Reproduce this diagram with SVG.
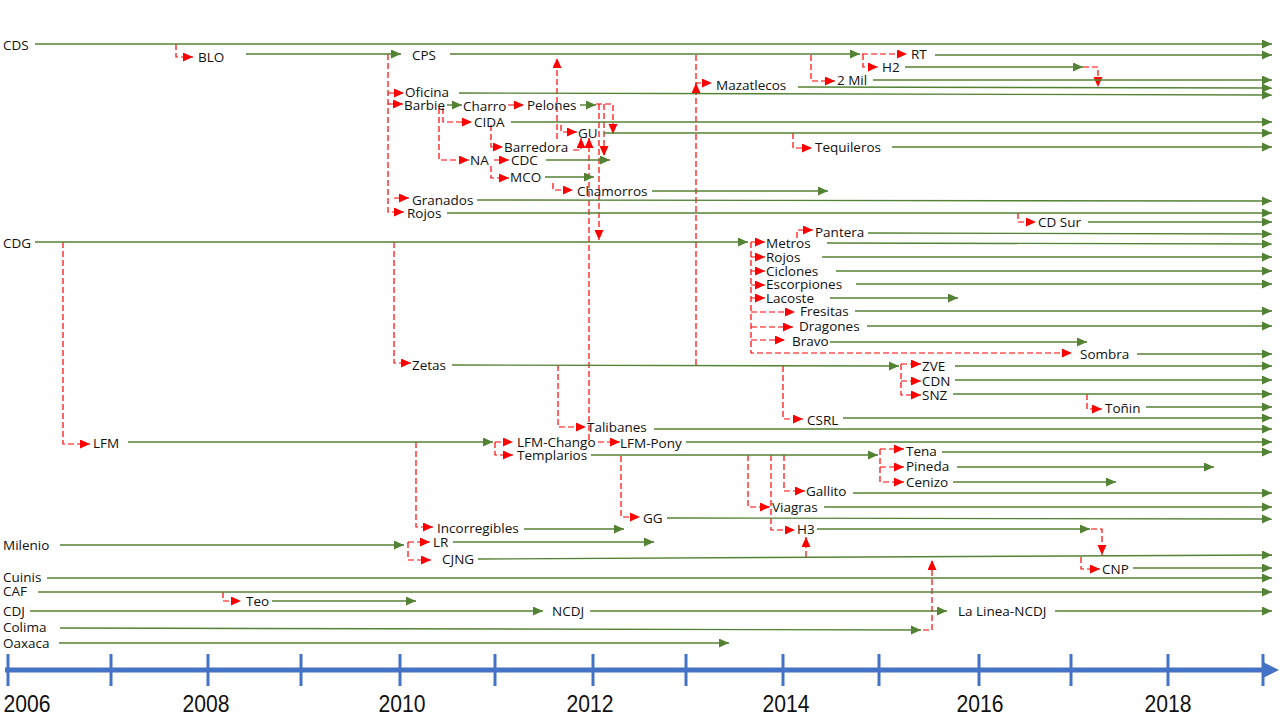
<svg xmlns="http://www.w3.org/2000/svg" width="1280" height="720" viewBox="0 0 1280 720">
<defs>
<style>
.t{font-family:"Open Sans","Noto Sans",sans-serif;font-size:13.5px;fill:#111}
.y{font-family:"Liberation Sans",Arial,sans-serif;font-size:24px;fill:#111;text-anchor:middle}
.g{stroke:#548235;stroke-width:1.4;fill:none}
.ga{marker-end:url(#ag)}
.r{stroke:#FF0000;stroke-width:1.2;fill:none;stroke-dasharray:6 3}
.ra{marker-end:url(#ar)}
.tk{stroke:#4472C4;stroke-width:3}
</style>
<marker id="ag" markerUnits="userSpaceOnUse" markerWidth="11" markerHeight="10" refX="10" refY="4.5" orient="auto"><path d="M0,0 L10,4.5 L0,9 Z" fill="#548235"/></marker>
<marker id="ar" markerUnits="userSpaceOnUse" markerWidth="11" markerHeight="10" refX="10" refY="4.5" orient="auto"><path d="M0,0 L10,4.5 L0,9 Z" fill="#FF0000"/></marker>
</defs>
<rect width="1280" height="720" fill="#fff"/>

<g id="axis">
<line x1="5" y1="670" x2="1266" y2="670" stroke="#4472C4" stroke-width="5"/>
<polygon points="1263,662 1279,670 1263,678" fill="#4472C4"/>
<g class="tk">
<line x1="8" y1="654" x2="8" y2="686"/><line x1="111" y1="654" x2="111" y2="686"/><line x1="208" y1="654" x2="208" y2="686"/><line x1="301" y1="654" x2="301" y2="686"/><line x1="400" y1="654" x2="400" y2="686"/><line x1="495" y1="654" x2="495" y2="686"/><line x1="593" y1="654" x2="593" y2="686"/><line x1="686" y1="654" x2="686" y2="686"/><line x1="783" y1="654" x2="783" y2="686"/><line x1="879" y1="654" x2="879" y2="686"/><line x1="979" y1="654" x2="979" y2="686"/><line x1="1071" y1="654" x2="1071" y2="686"/><line x1="1168" y1="654" x2="1168" y2="686"/><line x1="1263" y1="654" x2="1263" y2="686"/>
</g>
<text class="y" x="27" y="712" textLength="47" lengthAdjust="spacingAndGlyphs">2006</text>
<text class="y" x="206" y="712" textLength="47" lengthAdjust="spacingAndGlyphs">2008</text>
<text class="y" x="402" y="712" textLength="47" lengthAdjust="spacingAndGlyphs">2010</text>
<text class="y" x="590" y="712" textLength="47" lengthAdjust="spacingAndGlyphs">2012</text>
<text class="y" x="786" y="712" textLength="47" lengthAdjust="spacingAndGlyphs">2014</text>
<text class="y" x="980" y="712" textLength="47" lengthAdjust="spacingAndGlyphs">2016</text>
<text class="y" x="1168" y="712" textLength="47" lengthAdjust="spacingAndGlyphs">2018</text>
</g>

<g id="connectors" class="r">
<path class="ra" d="M176,44 V57 H193"/>
<path class="ra" d="M388,54 V212 H404"/>
<path class="ra" d="M388,93 H404"/>
<path class="ra" d="M388,104 H403"/>
<path class="ra" d="M394,198 H409"/>
<path class="ra" d="M696,55 V83 H712"/>
<path class="ra" d="M696,365 V83"/>
<path class="ra" d="M862,54 H907"/>
<path class="ra" d="M863,54 V67 H878"/>
<path class="ra" d="M811,55 V81 H835"/>
<path class="ra" d="M1083,67 H1098 V87"/>
<path class="ra" d="M508,105 H524"/>
<path class="ra" d="M443,108 V122 H472"/>
<path class="ra" d="M439,108 V160 H469"/>
<path class="ra" d="M494,160 H509"/>
<path class="ra" d="M491,125 V147 H503"/>
<path class="ra" d="M491,166 V178 H509"/>
<path class="ra" d="M553,183 V190 H573"/>
<path class="ra" d="M561,125 V132 H577"/>
<path class="ra" d="M573,150 H581 V138"/>
<path class="ra" d="M557,139 V58"/>
<path class="ra" d="M589,440 V138"/>
<path class="ra" d="M596,104 H613 V134"/>
<path class="ra" d="M604,104 V156"/>
<path class="ra" d="M599,104 V240"/>
<path class="ra" d="M793,133 V148 H812"/>
<path class="ra" d="M1018,213 V222 H1036"/>
<path class="ra" d="M63,242 V444 H90"/>
<path class="ra" d="M394,242 V363 H411"/>
<path class="ra" d="M751,242 V353 H1072"/>
<path class="ra" d="M751,242 H765"/>
<path class="ra" d="M751,257 H765"/>
<path class="ra" d="M751,271 H765"/>
<path class="ra" d="M751,285 H765"/>
<path class="ra" d="M751,298 H765"/>
<path class="ra" d="M751,312 H795"/>
<path class="ra" d="M751,327 H793"/>
<path class="ra" d="M751,340 H785"/>
<path class="ra" d="M797,238 V230 H813"/>
<path class="ra" d="M901,364 V395 H921"/>
<path class="ra" d="M901,364 H921"/>
<path class="ra" d="M901,381 H921"/>
<path class="ra" d="M1087,394 V409 H1102"/>
<path class="ra" d="M783,366 V419 H803"/>
<path class="ra" d="M558,365 V427 H586"/>
<path class="ra" d="M495,442 H513"/>
<path class="ra" d="M495,442 V455 H513"/>
<path class="ra" d="M598,442 H620"/>
<path class="ra" d="M416,442 V527 H433"/>
<path class="ra" d="M621,456 V517 H640"/>
<path class="ra" d="M880,449 V482 H904"/>
<path class="ra" d="M880,449 H904"/>
<path class="ra" d="M880,467 H904"/>
<path class="ra" d="M748,455 V507 H770"/>
<path class="ra" d="M771,455 V530 H795"/>
<path class="ra" d="M784,455 V491 H805"/>
<path class="ra" d="M806,557 V537"/>
<path class="ra" d="M1091,529 H1102 V555"/>
<path class="ra" d="M1081,557 V569 H1100"/>
<path class="ra" d="M408,542 V560 H431"/>
<path class="ra" d="M408,542 H430"/>
<path class="ra" d="M223,592 V601 H241"/>
<path class="ra" d="M923,630 H932 V560"/>
</g>

<g id="n-CDS"><text class="t" x="3" y="50">CDS</text><path class="g ga" d="M35,44 H1272"/></g>
<g id="n-BLO"><text class="t" x="198" y="62">BLO</text><path class="g ga" d="M246,54 H401"/></g>
<g id="n-CPS"><text class="t" x="412" y="60">CPS</text><path class="g ga" d="M450,54 H860"/></g>
<g id="n-RT"><text class="t" x="911" y="59">RT</text><path class="g ga" d="M935,55 H1272"/></g>
<g id="n-H2"><text class="t" x="882" y="72">H2</text><path class="g ga" d="M905,67 H1083"/></g>
<g id="n-2Mil"><text class="t" x="837" y="85">2 Mil</text><path class="g ga" d="M873,80 H1272"/></g>
<g id="n-Mazatlecos"><text class="t" x="716" y="90">Mazatlecos</text><path class="g ga" d="M798,87 L1272,88"/></g>
<g id="n-Oficina"><text class="t" x="405" y="97">Oficina</text><path class="g ga" d="M459,93 L1272,95"/></g>
<g id="n-Barbie"><text class="t" x="404" y="110">Barbie</text><path class="g ga" d="M447,105 H462"/></g>
<g id="n-Charro"><text class="t" x="463" y="111">Charro</text></g>
<g id="n-Pelones"><text class="t" x="527" y="110">Pelones</text><path class="g ga" d="M580,105 H596"/></g>
<g id="n-CIDA"><text class="t" x="474" y="127">CIDA</text><path class="g ga" d="M511,122 H1272"/></g>
<g id="n-GU"><text class="t" x="578" y="138">GU</text><path class="g ga" d="M604,133 H1272"/></g>
<g id="n-Barredora"><text class="t" x="504" y="152">Barredora</text></g>
<g id="n-Tequileros"><text class="t" x="815" y="152">Tequileros</text><path class="g ga" d="M892,147 H1272"/></g>
<g id="n-NA"><text class="t" x="470" y="165">NA</text></g>
<g id="n-CDC"><text class="t" x="511" y="165">CDC</text><path class="g ga" d="M546,160 H610"/></g>
<g id="n-MCO"><text class="t" x="510" y="182">MCO</text><path class="g ga" d="M545,177 H594"/></g>
<g id="n-Chamorros"><text class="t" x="577" y="196">Chamorros</text><path class="g ga" d="M652,191 H828"/></g>
<g id="n-Granados"><text class="t" x="412" y="205">Granados</text><path class="g ga" d="M477,200 L1272,201"/></g>
<g id="n-Rojos"><text class="t" x="407" y="218">Rojos</text><path class="g ga" d="M447,213 H1272"/></g>
<g id="n-CDSur"><text class="t" x="1038" y="227">CD Sur</text><path class="g ga" d="M1088,222 H1272"/></g>
<g id="n-CDG"><text class="t" x="3" y="248">CDG</text><path class="g ga" d="M35,242 H748"/></g>
<g id="n-Pantera"><text class="t" x="815" y="237">Pantera</text><path class="g ga" d="M868,233 L1272,234"/></g>
<g id="n-Metros"><text class="t" x="766" y="248">Metros</text><path class="g ga" d="M827,243 L1272,244"/></g>
<g id="n-Rojos2"><text class="t" x="766" y="262">Rojos</text><path class="g ga" d="M822,257 H1272"/></g>
<g id="n-Ciclones"><text class="t" x="766" y="276">Ciclones</text><path class="g ga" d="M836,271 H1272"/></g>
<g id="n-Escorpiones"><text class="t" x="766" y="289">Escorpiones</text><path class="g ga" d="M856,284 H1272"/></g>
<g id="n-Lacoste"><text class="t" x="766" y="303">Lacoste</text><path class="g ga" d="M830,298 H958"/></g>
<g id="n-Fresitas"><text class="t" x="800" y="316">Fresitas</text><path class="g ga" d="M855,311 H1272"/></g>
<g id="n-Dragones"><text class="t" x="799" y="331">Dragones</text><path class="g ga" d="M867,326 H1272"/></g>
<g id="n-Bravo"><text class="t" x="792" y="346">Bravo</text><path class="g ga" d="M830,342 H1087"/></g>
<g id="n-Sombra"><text class="t" x="1080" y="359">Sombra</text><path class="g ga" d="M1137,354 H1272"/></g>
<g id="n-Zetas"><text class="t" x="412" y="370">Zetas</text><path class="g ga" d="M452,365 L899,366"/></g>
<g id="n-ZVE"><text class="t" x="922" y="371">ZVE</text><path class="g ga" d="M955,366 H1272"/></g>
<g id="n-CDN"><text class="t" x="922" y="386">CDN</text><path class="g ga" d="M955,380 H1272"/></g>
<g id="n-SNZ"><text class="t" x="922" y="400">SNZ</text><path class="g ga" d="M953,394 H1272"/></g>
<g id="n-Tonin"><text class="t" x="1105" y="413">Toñin</text><path class="g ga" d="M1146,407 H1272"/></g>
<g id="n-CSRL"><text class="t" x="807" y="425">CSRL</text><path class="g ga" d="M843,418 H1272"/></g>
<g id="n-Talibanes"><text class="t" x="587" y="432">Talibanes</text><path class="g ga" d="M654,429 H1272"/></g>
<g id="n-LFM"><text class="t" x="93" y="448">LFM</text><path class="g ga" d="M128,442 H493"/></g>
<g id="n-LFMChango"><text class="t" x="517" y="447">LFM-Chango</text></g>
<g id="n-LFMPony"><text class="t" x="620" y="448">LFM-Pony</text><path class="g ga" d="M686,442 H1272"/></g>
<g id="n-Templarios"><text class="t" x="517" y="460">Templarios</text><path class="g ga" d="M591,455 H878"/></g>
<g id="n-Tena"><text class="t" x="906" y="456">Tena</text><path class="g ga" d="M942,452 H1272"/></g>
<g id="n-Pineda"><text class="t" x="906" y="471">Pineda</text><path class="g ga" d="M957,467 H1214"/></g>
<g id="n-Cenizo"><text class="t" x="906" y="487">Cenizo</text><path class="g ga" d="M953,482 H1116"/></g>
<g id="n-Gallito"><text class="t" x="806" y="496">Gallito</text><path class="g ga" d="M853,493 H1272"/></g>
<g id="n-Viagras"><text class="t" x="772" y="512">Viagras</text><path class="g ga" d="M824,507 H1272"/></g>
<g id="n-GG"><text class="t" x="643" y="523">GG</text><path class="g ga" d="M667,518 L1272,519"/></g>
<g id="n-Incorregibles"><text class="t" x="437" y="533">Incorregibles</text><path class="g ga" d="M524,529 H624"/></g>
<g id="n-H3"><text class="t" x="797" y="534">H3</text><path class="g ga" d="M817,529 H1090"/></g>
<g id="n-Milenio"><text class="t" x="3" y="550">Milenio</text><path class="g ga" d="M60,545 H404"/></g>
<g id="n-LR"><text class="t" x="433" y="547">LR</text><path class="g ga" d="M453,542 H654"/></g>
<g id="n-CJNG"><text class="t" x="442" y="564">CJNG</text><path class="g ga" d="M478,559 L1272,555"/></g>
<g id="n-CNP"><text class="t" x="1102" y="574">CNP</text><path class="g ga" d="M1133,568 H1272"/></g>
<g id="n-Cuinis"><text class="t" x="3" y="582">Cuinis</text><path class="g ga" d="M47,578 H1272"/></g>
<g id="n-CAF"><text class="t" x="3" y="596">CAF</text><path class="g ga" d="M38,592 H1272"/></g>
<g id="n-Teo"><text class="t" x="246" y="606">Teo</text><path class="g ga" d="M272,601 H416"/></g>
<g id="n-CDJ"><text class="t" x="3" y="616">CDJ</text><path class="g ga" d="M30,611 H543"/></g>
<g id="n-NCDJ"><text class="t" x="552" y="616">NCDJ</text><path class="g ga" d="M590,611 H947"/></g>
<g id="n-LaLinea"><text class="t" x="958" y="616">La Linea-NCDJ</text><path class="g ga" d="M1055,611 H1272"/></g>
<g id="n-Colima"><text class="t" x="3" y="632">Colima</text><path class="g ga" d="M60,628 L921,630"/></g>
<g id="n-Oaxaca"><text class="t" x="3" y="648">Oaxaca</text><path class="g ga" d="M59,643 H729"/></g>
</svg>
